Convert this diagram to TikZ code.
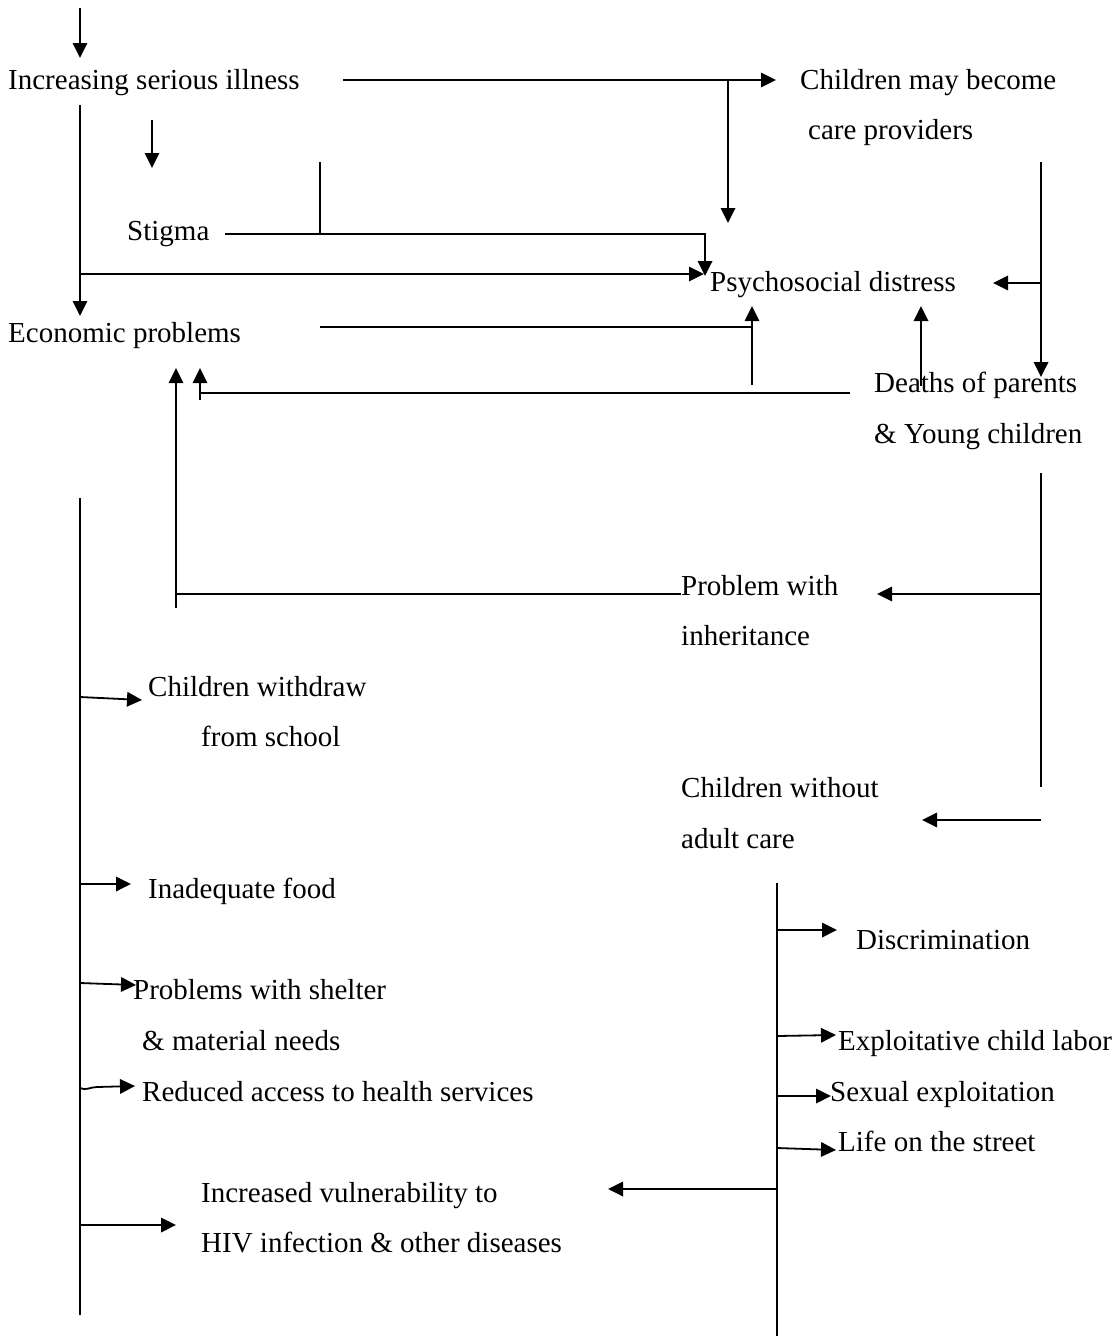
\documentclass[tikz,border=0pt]{standalone}
\usepackage{fontspec}
\setmainfont{Liberation Serif}
\usetikzlibrary{arrows.meta}
\begin{document}
\begin{tikzpicture}[x=1pt,y=-1pt,
  lbl/.style={anchor=base west,inner sep=0pt,font=\fontsize{29}{35}\selectfont},
  ln/.style={line width=1.8pt},
  arr/.style={ln,-{Triangle[length=15pt,width=14.5pt]}}]
\useasboundingbox[fill=white] (0,0) rectangle (1116,1336);
% ---- labels ----
\node[lbl] (isi) at (8,89) {Increasing serious illness};
\node[lbl] (cmb1) at (800,89) {Children may become};
\node[lbl] (cmb2) at (808,139.6) {care providers};
\node[lbl] (stig) at (127,240.8) {Stigma};
\node[lbl] (psy) at (710,291.4) {Psychosocial distress};
\node[lbl] (eco) at (8,342) {Economic problems};
\node[lbl] (dea1) at (874,392.6) {Deaths of parents};
\node[lbl] (dea2) at (874,443.2) {\& Young children};
\node[lbl] (inh1) at (681,595) {Problem with};
\node[lbl] (inh2) at (681,645.6) {inheritance};
\node[lbl] (wd1) at (148,696.2) {Children withdraw};
\node[lbl] (wd2) at (201,746.8) {from school};
\node[lbl] (wo1) at (681,797.4) {Children without};
\node[lbl] (wo2) at (681,848) {adult care};
\node[lbl] (food) at (148,898.6) {Inadequate food};
\node[lbl] (disc) at (856,949.2) {Discrimination};
\node[lbl] (sh1) at (133,999.8) {Problems with shelter};
\node[lbl] (sh2) at (142,1050.4) {\& material needs};
\node[lbl] (lab) at (838,1050.4) {Exploitative child labor};
\node[lbl] (hea) at (142,1101) {Reduced access to health services};
\node[lbl] (sex) at (830,1101) {Sexual exploitation};
\node[lbl] (str) at (838,1151.6) {Life on the street};
\node[lbl] (vul1) at (201,1202.2) {Increased vulnerability to};
\node[lbl] (vul2) at (201,1252.8) {HIV infection \& other diseases};
% ---- junction coordinates ----
\coordinate (a0) at (80,8);      \coordinate (a1) at (80,58);
\coordinate (b0) at (343,80);    \coordinate (b1) at (776,80);
\coordinate (b2) at (728,80);    \coordinate (b3) at (728,223);
\coordinate (c0) at (80,105);    \coordinate (c1) at (80,316);
\coordinate (c2) at (80,274);    \coordinate (c3) at (704,274);
\coordinate (d0) at (152,120);   \coordinate (d1) at (152,168);
\coordinate (e0) at (225,234);   \coordinate (e1) at (705,234);
\coordinate (e2) at (705,276);   \coordinate (e3) at (320,162);
\coordinate (e4) at (320,234);
\coordinate (f0) at (320,327);   \coordinate (f1) at (752,327);
\coordinate (f2) at (752,385);   \coordinate (f3) at (752,306);
\coordinate (g0) at (850,393);   \coordinate (g1) at (200,393);
\coordinate (g2) at (200,400);   \coordinate (g3) at (200,368);
\coordinate (h0) at (921,386);   \coordinate (h1) at (921,306);
\coordinate (i0) at (1041,162);  \coordinate (i1) at (1041,377);
\coordinate (i2) at (1041,283);  \coordinate (i3) at (993,283);
\coordinate (j0) at (176,608);   \coordinate (j1) at (176,368);
\coordinate (j2) at (176,594);   \coordinate (j3) at (681,594);
\coordinate (k0) at (1041,473);  \coordinate (k1) at (1041,787);
\coordinate (k2) at (1041,594);  \coordinate (k3) at (877,594);
\coordinate (l0) at (1041,820);  \coordinate (l1) at (922,820);
\coordinate (m0) at (80,498);    \coordinate (m1) at (80,1315);
\coordinate (n0) at (777,883);   \coordinate (n1) at (777,1336);
% ---- upper connectors ----
\draw[arr] (a0) -- (a1);
\draw[arr] (b0) -- (b1);
\draw[arr] (b2) -- (b3);
\draw[arr] (c0) -- (c1);
\draw[arr] (c2) -- (c3);
\draw[arr] (d0) -- (d1);
\draw[arr] (e0) -- (e1) -- (e2);
\draw[ln] (e3) -- (e4);
\draw[ln] (f0) -- (f1);
\draw[arr] (f2) -- (f3);
\draw[ln] (g0) -- (g1);
\draw[arr] (g2) -- (g3);
\draw[arr] (h0) -- (h1);
\draw[arr] (i0) -- (i1);
\draw[arr] (i2) -- (i3);
\draw[arr] (j0) -- (j1);
\draw[ln] (j2) -- (j3);
\draw[ln] (k0) -- (k1);
\draw[arr] (k2) -- (k3);
\draw[arr] (l0) -- (l1);
% ---- left bus ----
\draw[ln] (m0) -- (m1);
\draw[arr] (80,697) -- (142,700);
\draw[arr] (80,884) -- (131,884);
\draw[arr] (80,983) -- (136,985);
\draw[arr] (80,1088) .. controls (86,1091) and (90,1087) .. (97,1087) -- (135,1086);
\draw[arr] (80,1225) -- (176,1225);
% ---- right bus ----
\draw[ln] (n0) -- (n1);
\draw[arr] (777,930) -- (837,930);
\draw[arr] (777,1036) -- (836,1035);
\draw[arr] (777,1096) -- (831,1096);
\draw[arr] (777,1148) -- (836,1150);
\draw[arr] (777,1189) -- (608,1189);
\end{tikzpicture}
\end{document}
